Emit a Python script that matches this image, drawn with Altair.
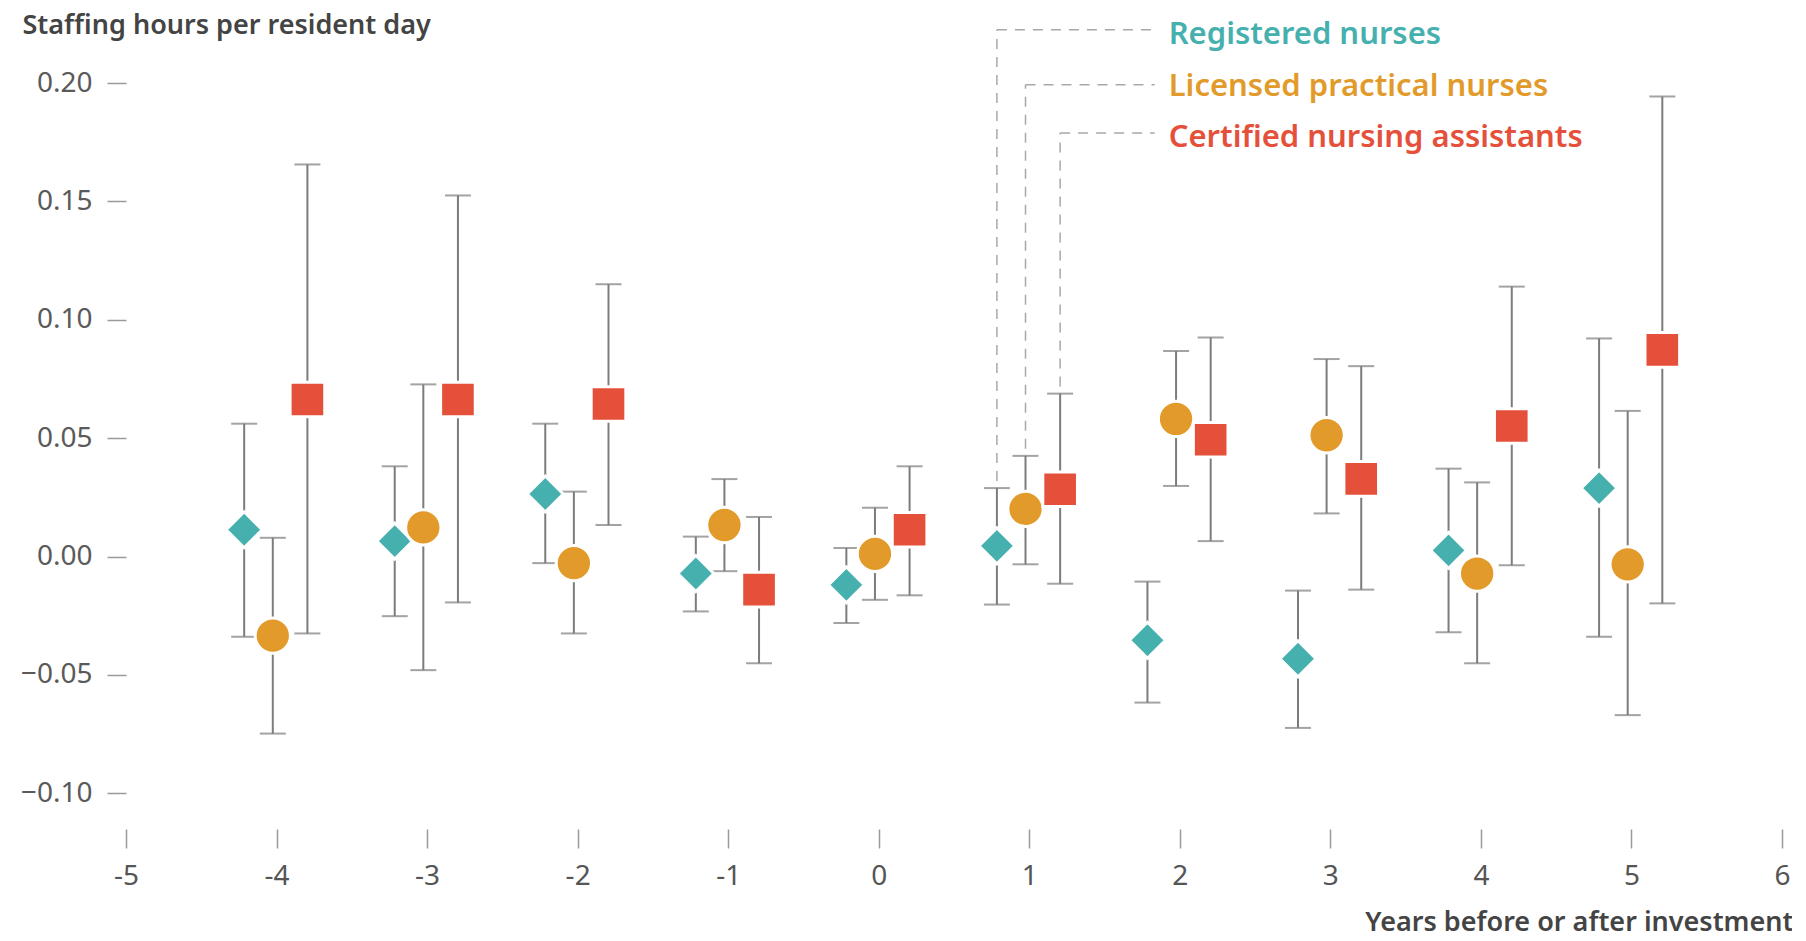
import altair as alt
import pandas as pd

years = [-4, -3, -2, -1, 0, 1, 2, 3, 4, 5]

groups = ["RN", "LPN", "CNA"]
group_labels = ["Registered nurses", "Licensed practical nurses", "Certified nursing assistants"]
group_colors = ["#46B0AF", "#E29B2B", "#E5503B"]

rn_mean = [0.0113, 0.0065, 0.0264, -0.0072, -0.0120, 0.0045, -0.0354, -0.0432, 0.0026, 0.0289]
rn_low = [-0.0339, -0.0252, -0.0028, -0.0232, -0.0281, -0.0203, -0.0617, -0.0724, -0.0320, -0.0339]
rn_high = [0.0561, 0.0381, 0.0561, 0.0084, 0.0036, 0.0289, -0.0106, -0.0144, 0.0371, 0.0921]

lpn_mean = [-0.0334, 0.0123, -0.0028, 0.0133, 0.0011, 0.0201, 0.0581, 0.0512, -0.0072, -0.0033]
lpn_low = [-0.0748, -0.0480, -0.0325, -0.0062, -0.0183, -0.0033, 0.0298, 0.0182, -0.0451, -0.0670]
lpn_high = [0.0079, 0.0727, 0.0274, 0.0327, 0.0206, 0.0425, 0.0868, 0.0834, 0.0313, 0.0615]

cna_mean = [0.0663, 0.0663, 0.0644, -0.0140, 0.0113, 0.0284, 0.0493, 0.0328, 0.0551, 0.0873]
cna_low = [-0.0325, -0.0194, 0.0133, -0.0451, -0.0164, -0.0115, 0.0065, -0.0140, -0.0037, -0.0198]
cna_high = [0.1656, 0.1525, 0.1150, 0.0167, 0.0381, 0.0688, 0.0925, 0.0804, 0.1140, 0.1943]

y_ticks = [-0.10, -0.05, 0.0, 0.05, 0.10, 0.15, 0.20]
x_ticks = [-5, -4, -3, -2, -1, 0, 1, 2, 3, 4, 5, 6]

# annotation (legend) placement, in data units
label_line_y = [0.2225, 0.1993, 0.1789]
label_text_y = [0.2163, 0.1943, 0.1730]
annot_year = 1

series = {"RN": (rn_mean, rn_low, rn_high),
          "LPN": (lpn_mean, lpn_low, lpn_high),
          "CNA": (cna_mean, cna_low, cna_high)}

rows = []
for g in groups:
    m, lo, hi = series[g]
    for i, yr in enumerate(years):
        rows.append({"year": yr, "group": g, "mean": m[i], "low": lo[i], "high": hi[i]})
df = pd.DataFrame(rows)

annot = pd.DataFrame({
    "group": groups,
    "label": group_labels,
    "line_y": label_line_y,
    "text_y": label_text_y,
    "year": [annot_year] * 3,
    "start_y": [series[g][2][years.index(annot_year)] for g in groups],
})

dodge = "datum.year + (datum.group == 'RN' ? -0.215 : (datum.group == 'LPN' ? -0.025 : 0.205))"

xscale = alt.Scale(domain=[-5, 6], nice=False, zero=False)
yscale = alt.Scale(domain=[-0.1151, 0.20], nice=False, zero=False)

color_scale = alt.Scale(domain=groups, range=group_colors)
shape_scale = alt.Scale(domain=groups, range=["diamond", "circle", "square"])
size_scale = alt.Scale(domain=groups, range=[1296, 1200, 760])

x_enc = alt.X(
    "xpos:Q", scale=xscale,
    axis=alt.Axis(
        values=x_ticks, title="Years before or after investment",
        labelExpr="datum.value < 0 ? '-' + abs(datum.value) : '' + datum.value",
        grid=False, domain=False, tickSize=19, tickColor="#9a9a9a", tickWidth=1.5,
        labelFont="Noto Sans", labelFontSize=28, labelColor="#555555", labelPadding=14,
        labelFlush=False,
        titleFont="Noto Sans", titleFontSize=27, titleFontWeight=600, titleColor="#444444",
        titleAnchor="start", titleAlign="right", titleBaseline="alphabetic",
        titleX=1667, titleY=101,
    ),
)
y_enc = alt.Y(
    "mean:Q", scale=yscale,
    axis=alt.Axis(
        values=y_ticks, format=".2f", title="Staffing hours per resident day",
        grid=False, domain=False, tickSize=19, tickColor="#9a9a9a", tickWidth=1.5,
        labelFont="Noto Sans", labelFontSize=28, labelColor="#5a5a5a", labelPadding=15,
        labelFlush=False,
        titleFont="Noto Sans", titleFontSize=27, titleFontWeight=600, titleColor="#444444",
        titleAngle=0, titleAlign="left", titleBaseline="alphabetic",
        titleX=-104, titleY=-50,
    ),
)

base = alt.Chart(df).transform_calculate(xpos=dodge)

bars = base.mark_rule(color="#7c7c7c", strokeWidth=2).encode(
    x=x_enc,
    y=alt.Y("low:Q", scale=yscale),
    y2="high:Q",
)
cap_low = base.mark_tick(color="#7c7c7c", orient="horizontal", size=26, thickness=2).encode(
    x=alt.X("xpos:Q", scale=xscale), y=alt.Y("low:Q", scale=yscale))
cap_high = base.mark_tick(color="#7c7c7c", orient="horizontal", size=26, thickness=2).encode(
    x=alt.X("xpos:Q", scale=xscale), y=alt.Y("high:Q", scale=yscale))

points = base.mark_point(filled=True, opacity=1, stroke="white", strokeWidth=3, strokeOpacity=1).encode(
    x=alt.X("xpos:Q", scale=xscale),
    y=y_enc,
    fill=alt.Fill("group:N", scale=color_scale, legend=None),
    shape=alt.Shape("group:N", scale=shape_scale, legend=None),
    size=alt.Size("group:N", scale=size_scale, legend=None),
)

abase = alt.Chart(annot).transform_calculate(
    xpos=dodge, line_end="1.833", text_x="1.926", start_top="datum.start_y + 0.003"
)
dash_v = abase.mark_rule(color="#a8a8a8", strokeWidth=1.5, strokeDash=[10, 8]).encode(
    x=alt.X("xpos:Q", scale=xscale),
    y=alt.Y("start_top:Q", scale=yscale),
    y2="line_y:Q",
)
dash_h = abase.mark_rule(color="#a8a8a8", strokeWidth=1.5, strokeDash=[10, 8]).encode(
    x=alt.X("xpos:Q", scale=xscale),
    x2="line_end:Q",
    y=alt.Y("line_y:Q", scale=yscale),
)
labels = abase.mark_text(
    align="left", baseline="alphabetic", font="Noto Sans", fontSize=31, fontWeight=600
).encode(
    x=alt.X("text_x:Q", scale=xscale),
    y=alt.Y("text_y:Q", scale=yscale),
    text="label:N",
    color=alt.Color("group:N", scale=color_scale, legend=None),
)

chart = alt.layer(bars, cap_low, cap_high, dash_v, dash_h, points, labels).properties(
    width=1656,
    height=746,
    autosize=alt.AutoSizeParams(type="none"),
    padding={"left": 118, "top": 75, "right": 10, "bottom": 103},
).configure(background="white").configure_view(strokeWidth=0)

chart.save("out.html", embed_options={"renderer": "svg", "actions": False})
